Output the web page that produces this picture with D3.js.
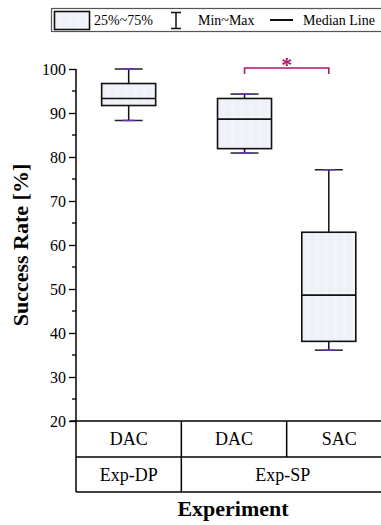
<!DOCTYPE html>
<html>
<head>
<meta charset="utf-8">
<script src="https://cdn.jsdelivr.net/npm/d3@7"></script>
<style>
  body { margin: 0; background: #fff; }
</style>
</head>
<body>
<script>
// data
const conditions = ["DAC", "DAC", "SAC"]
const experiments = ["Exp-DP", "Exp-SP"]
const experimentSpan = [[0, 1], [1, 3]]   // which condition columns each experiment covers
const boxPos = [0.5, 1.6, 2.4]            // box centre, in column units
const minV = [88.3, 80.9, 36.1]
const q1V = [91.7, 81.9, 38.1]
const medV = [93.3, 88.6, 48.6]
const q3V = [96.7, 93.3, 62.9]
const maxV = [100, 94.3, 77.1]
const yTicks = [20, 30, 40, 50, 60, 70, 80, 90, 100]
const sigPair = [1, 2]

const W = 381, H = 525
const FONT = "Liberation Serif"
const left = 76, tableRight = 392
const y = d3.scaleLinear().domain([20, 100]).range([421, 69])
const xCol = d3.scaleBand().domain(d3.range(conditions.length)).range([left, tableRight]).padding(0)
const x = d3.scaleLinear().domain([0, conditions.length]).range([left, tableRight])
const row1 = [421, 457], row2 = [457, 492]

const boxW = 54, capW = 28, markW = 12
const boxFill = "#eef2f8"
const purple = "#6a2fc2"
const magenta = "#b2156c"

const svg = d3.select("body").append("svg").attr("width", W).attr("height", H)
    .attr("font-family", FONT)

// faint vertical stripes inside the boxes
const pat = svg.append("defs").append("pattern")
    .attr("id", "stripes").attr("patternUnits", "userSpaceOnUse")
    .attr("width", 9).attr("height", 10)
pat.append("rect").attr("width", 9).attr("height", 10).attr("fill", boxFill)
pat.append("rect").attr("x", 5).attr("width", 3).attr("height", 10).attr("fill", "#f2f4f9")

// y axis
const axis = svg.append("g").attr("transform", `translate(${left},0)`)
    .call(d3.axisLeft(y).tickValues(yTicks).tickSize(7).tickPadding(3).tickFormat(d3.format("d")))
axis.attr("font-family", FONT)
axis.select(".domain").remove()
axis.selectAll("line").attr("stroke", "#000").attr("stroke-width", 1.3)
axis.selectAll("text").attr("font-size", 16).attr("fill", "#000").attr("font-family", FONT)
axis.selectAll(".minor").data(d3.range(25, 100, 10)).join("line")
    .attr("x1", -4).attr("x2", 0)
    .attr("y1", d => y(d)).attr("y2", d => y(d))
    .attr("stroke", "#000").attr("stroke-width", 1.3)
svg.append("line").attr("x1", left).attr("x2", left).attr("y1", y(100)).attr("y2", row2[1])
    .attr("stroke", "#000").attr("stroke-width", 1.5)

svg.append("text")
    .attr("transform", `translate(28,${(y(20) + y(100)) / 2}) rotate(-90)`)
    .attr("text-anchor", "middle").attr("font-family", FONT)
    .attr("font-size", 22).attr("font-weight", "bold")
    .text("Success Rate [%]")

// category table under the plot
const tbl = svg.append("g").attr("stroke", "#000").attr("stroke-width", 1.5)
;[row1[0], row1[1], row2[1]].forEach((v, i) => {
    tbl.append("line").attr("x1", i === 0 ? left - 6 : left).attr("x2", tableRight).attr("y1", v).attr("y2", v)
})
tbl.selectAll(".c1").data(d3.range(1, conditions.length)).join("line")
    .attr("x1", d => xCol(d)).attr("x2", d => xCol(d)).attr("y1", row1[0]).attr("y2", row1[1])
tbl.selectAll(".c2").data(experimentSpan.slice(1)).join("line")
    .attr("x1", d => xCol(d[0])).attr("x2", d => xCol(d[0])).attr("y1", row2[0]).attr("y2", row2[1])

svg.selectAll(".cond").data(conditions).join("text")
    .attr("x", (d, i) => xCol(i) + xCol.bandwidth() / 2)
    .attr("y", (row1[0] + row1[1]) / 2).attr("dy", "0.35em")
    .attr("text-anchor", "middle").attr("font-size", 18).attr("font-family", FONT)
    .text(d => d)
svg.selectAll(".exp").data(experiments).join("text")
    .attr("x", (d, i) => (xCol(experimentSpan[i][0]) + (experimentSpan[i][1] < conditions.length ? xCol(experimentSpan[i][1]) : tableRight)) / 2 - (i === 1 ? 4 : 0))
    .attr("y", (row2[0] + row2[1]) / 2).attr("dy", "0.35em")
    .attr("text-anchor", "middle").attr("font-size", 18).attr("font-family", FONT)
    .text(d => d)

svg.append("text").attr("x", 233).attr("y", 516)
    .attr("text-anchor", "middle").attr("font-size", 22).attr("font-weight", "bold")
    .attr("font-family", FONT)
    .text("Experiment")

// boxes
const boxes = svg.selectAll(".box").data(conditions).join("g")
    .attr("transform", (d, i) => `translate(${x(boxPos[i])},0)`)
boxes.append("line").attr("y1", (d, i) => y(maxV[i])).attr("y2", (d, i) => y(q3V[i]))
    .attr("stroke", "#111").attr("stroke-width", 1.5)
boxes.append("line").attr("y1", (d, i) => y(q1V[i])).attr("y2", (d, i) => y(minV[i]))
    .attr("stroke", "#111").attr("stroke-width", 1.5)
boxes.append("rect")
    .attr("x", -boxW / 2).attr("width", boxW)
    .attr("y", (d, i) => y(q3V[i])).attr("height", (d, i) => y(q1V[i]) - y(q3V[i]))
    .attr("fill", "url(#stripes)").attr("stroke", "#111").attr("stroke-width", 1.6)
boxes.append("line").attr("x1", -boxW / 2).attr("x2", boxW / 2)
    .attr("y1", (d, i) => y(medV[i])).attr("y2", (d, i) => y(medV[i]))
    .attr("stroke", "#111").attr("stroke-width", 1.6)
for (const vals of [minV, maxV]) {
    boxes.append("line").attr("x1", -capW / 2).attr("x2", capW / 2)
        .attr("y1", (d, i) => y(vals[i])).attr("y2", (d, i) => y(vals[i]))
        .attr("stroke", "#222").attr("stroke-width", 1.5)
    boxes.append("line").attr("x1", -markW / 2).attr("x2", markW / 2)
        .attr("y1", (d, i) => y(vals[i])).attr("y2", (d, i) => y(vals[i]))
        .attr("stroke", purple).attr("stroke-width", 1.5)
}

// significance bracket
const bx0 = x(boxPos[sigPair[0]]), bx1 = x(boxPos[sigPair[1]])
svg.append("path")
    .attr("d", `M${bx0},74V68H${bx1}V74`)
    .attr("fill", "none").attr("stroke", magenta).attr("stroke-width", 1.6)
svg.append("text").attr("x", (bx0 + bx1) / 2).attr("y", 72)
    .attr("text-anchor", "middle").attr("font-size", 22).attr("font-weight", "bold")
    .attr("font-family", FONT)
    .attr("fill", magenta).text("*")

// legend
const lg = svg.append("g").attr("font-family", FONT)
lg.append("rect").attr("x", 51.5).attr("y", 8.5).attr("width", 340).attr("height", 23)
    .attr("fill", "#fff").attr("stroke", "#555").attr("stroke-width", 1.2)
lg.append("rect").attr("x", 54.5).attr("y", 11.5).attr("width", 35).attr("height", 18)
    .attr("fill", "url(#stripes)").attr("stroke", "#111").attr("stroke-width", 1.6)
lg.append("text").attr("x", 94).attr("y", 25).attr("font-size", 14).text("25%~75%")
lg.append("path").attr("d", "M171,12.5H181M176,12.5V28.5M171,28.5H181")
    .attr("fill", "none").attr("stroke", "#111").attr("stroke-width", 1.5)
lg.append("text").attr("x", 198).attr("y", 25).attr("font-size", 14).text("Min~Max")
lg.append("line").attr("x1", 270).attr("x2", 293).attr("y1", 20).attr("y2", 20)
    .attr("stroke", "#111").attr("stroke-width", 2)
lg.append("text").attr("x", 303).attr("y", 25).attr("font-size", 14).text("Median Line")
</script>
</body>
</html>
